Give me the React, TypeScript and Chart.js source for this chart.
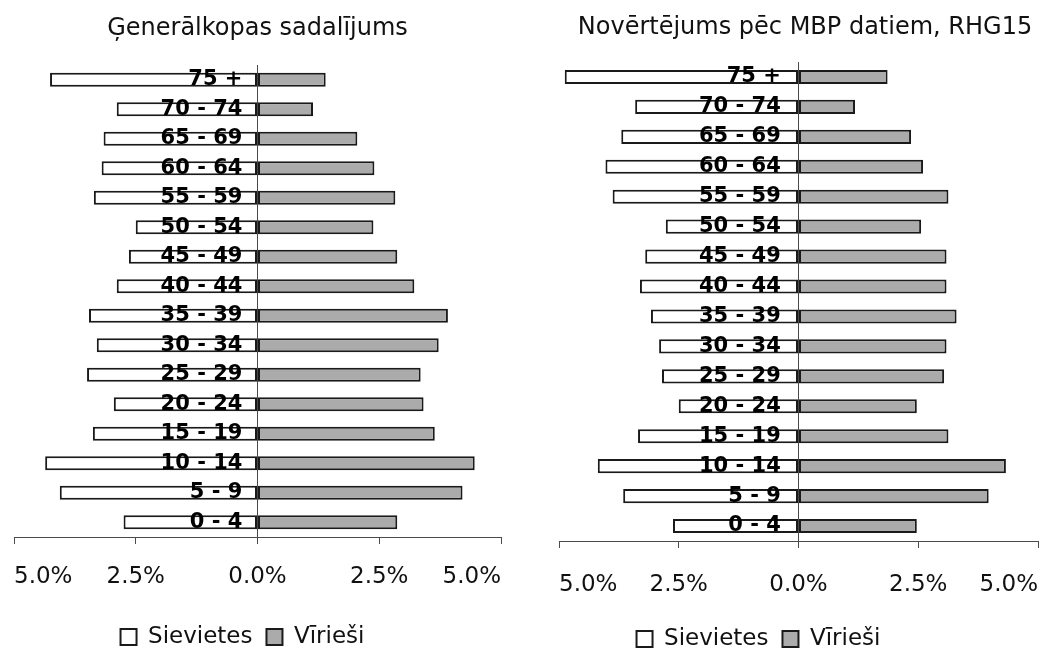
import React, { useEffect, useRef } from 'react';
import { Chart, registerables } from 'chart.js';

Chart.register(...registerables);

// Age groups, youngest first (the y axis is reversed so "75 +" sits on top)
const ageGroups = [
  '0 - 4', '5 - 9', '10 - 14', '15 - 19', '20 - 24', '25 - 29', '30 - 34', '35 - 39',
  '40 - 44', '45 - 49', '50 - 54', '55 - 59', '60 - 64', '65 - 69', '70 - 74', '75 +',
];

// Ģenerālkopas sadalījums, % of population
const populationWomen = [2.75, 4.06, 4.36, 3.38, 2.95, 3.5, 3.3, 3.46, 2.89, 2.64, 2.5, 3.36, 3.2, 3.16, 2.89, 4.26];
const populationMen = [2.87, 4.21, 4.46, 3.64, 3.41, 3.35, 3.72, 3.91, 3.22, 2.87, 2.38, 2.83, 2.4, 2.05, 1.14, 1.4];

// Novērtējums pēc MBP datiem, RHG15, % of population
const surveyWomen = [2.62, 3.66, 4.19, 3.35, 2.5, 2.85, 2.91, 3.08, 3.31, 3.2, 2.77, 3.88, 4.03, 3.7, 3.41, 4.88];
const surveyMen = [2.47, 3.97, 4.33, 3.13, 2.47, 3.04, 3.09, 3.3, 3.09, 3.09, 2.56, 3.13, 2.6, 2.35, 1.18, 1.86];

// Percentage axis: both sides run 0..5 %
const axisLimit = 5;
const axisStep = 2.5;

const seriesNames = ['Sievietes', 'Vīrieši'];

const FONT = "'DejaVu Sans', 'Liberation Sans', sans-serif";
const TEXT = '#111111';
const AXIS = '#4a4a4a';
const EDGE = '#1a1a1a';
const MEN_FILL = '#ababab';
const WOMEN_FILL = '#ffffff';
const CLEAR = 'rgba(0,0,0,0)';

const W = 523;
const H = 649;

type Panel = {
  title: string;
  women: number[];
  men: number[];
  padLeft: number;
  padRight: number;
  padBottom: number;
  titleTop: number;
  titleBottom: number;
  xAxisHeight: number;
  xLabelPad: number;
  labelGap: number; // gap between age labels and the zero line, in axis units
  titleDx: number;
  legendDx: number;
};

// Shifts the title and legend sideways after Chart.js has laid them out
const nudgePlugin = {
  id: 'nudge',
  afterLayout(chart: any, _args: any, opts: any) {
    const t = chart.titleBlock;
    if (t && opts.titleDx) {
      t.left += opts.titleDx;
      t.right += opts.titleDx;
    }
    const l = chart.legend;
    if (l && opts.legendDx) {
      l.left += opts.legendDx;
      l.right += opts.legendDx;
    }
  },
};

function buildConfig(p: Panel): any {
  const barStyle = {
    borderColor: EDGE,
    borderWidth: 2,
    borderSkipped: false,
    barPercentage: 0.47,
    categoryPercentage: 1,
  };
  return {
    type: 'bar',
    data: {
      labels: ageGroups,
      datasets: [
        { label: seriesNames[0], data: p.women.map((v) => -v), backgroundColor: WOMEN_FILL, ...barStyle },
        { label: seriesNames[1], data: p.men, backgroundColor: MEN_FILL, ...barStyle },
      ],
    },
    options: {
      indexAxis: 'y',
      responsive: false,
      maintainAspectRatio: false,
      animation: false,
      events: [],
      layout: { padding: { left: p.padLeft, right: p.padRight, top: 0, bottom: p.padBottom } },
      scales: {
        x: {
          type: 'linear',
          min: -axisLimit,
          max: axisLimit,
          stacked: true,
          afterFit: (scale: any) => {
            scale.height = p.xAxisHeight;
          },
          ticks: {
            stepSize: axisStep,
            align: 'inner',
            maxRotation: 0,
            autoSkip: false,
            padding: p.xLabelPad,
            color: TEXT,
            font: { family: FONT, size: 23, lineHeight: 2.6 },
            callback: (v: any) => Math.abs(Number(v)).toFixed(1) + '%',
          },
          // only the zero grid line is visible: it is the pyramid's centre line
          grid: {
            display: true,
            drawOnChartArea: true,
            drawTicks: true,
            tickLength: 7,
            color: (ctx: any) => (ctx.tick && ctx.tick.value === 0 ? AXIS : CLEAR),
            tickColor: AXIS,
            lineWidth: 1,
            z: 1,
          },
          border: { display: true, color: AXIS, width: 1, z: 1 },
        },
        y: {
          type: 'category',
          stacked: true,
          reverse: true,
          position: { x: -p.labelGap },
          grid: { display: false, drawTicks: false },
          border: { display: false },
          ticks: {
            z: 2,
            padding: 0,
            autoSkip: false,
            color: '#000000',
            font: { family: FONT, size: 21, weight: 'bold' },
          },
        },
      },
      plugins: {
        title: {
          display: true,
          text: p.title,
          color: TEXT,
          font: { family: FONT, size: 24, weight: 'normal', lineHeight: 1.2 },
          padding: { top: p.titleTop, bottom: p.titleBottom },
        },
        legend: {
          display: true,
          position: 'bottom',
          labels: {
            boxWidth: 16,
            boxHeight: 16,
            padding: 14,
            color: TEXT,
            font: { family: FONT, size: 23 },
          },
        },
        tooltip: { enabled: false },
        nudge: { titleDx: p.titleDx, legendDx: p.legendDx },
      },
    },
    plugins: [nudgePlugin],
  };
}

const populationPanel: Panel = {
  title: 'Ģenerālkopas sadalījums',
  women: populationWomen,
  men: populationMen,
  padLeft: 14,
  padRight: 22,
  padBottom: -9.5,
  titleTop: 14.6,
  titleBottom: 21.6,
  xAxisHeight: 74.5,
  xLabelPad: 3,
  labelGap: 0.31,
  titleDx: 0,
  legendDx: -15,
};

const surveyPanel: Panel = {
  title: 'Novērtējums pēc MBP datiem, RHG15',
  women: surveyWomen,
  men: surveyMen,
  padLeft: 36,
  padRight: 8,
  padBottom: -11.5,
  titleTop: 13.6,
  titleBottom: 19.6,
  xAxisHeight: 72.5,
  xLabelPad: 7,
  labelGap: 0.37,
  titleDx: 6.5,
  legendDx: -40,
};

function Pyramid({ panel }: { panel: Panel }) {
  const ref = useRef<HTMLCanvasElement | null>(null);
  useEffect(() => {
    if (!ref.current) return;
    const chart = new Chart(ref.current, buildConfig(panel));
    return () => chart.destroy();
  }, [panel]);
  return <canvas ref={ref} width={W} height={H} style={{ display: 'block' }} />;
}

export default function App() {
  useEffect(() => {
    document.body.style.margin = '0';
    document.body.style.background = '#ffffff';
  }, []);
  return (
    <div style={{ display: 'flex', width: W * 2, height: H, background: '#ffffff' }}>
      <Pyramid panel={populationPanel} />
      <Pyramid panel={surveyPanel} />
    </div>
  );
}
